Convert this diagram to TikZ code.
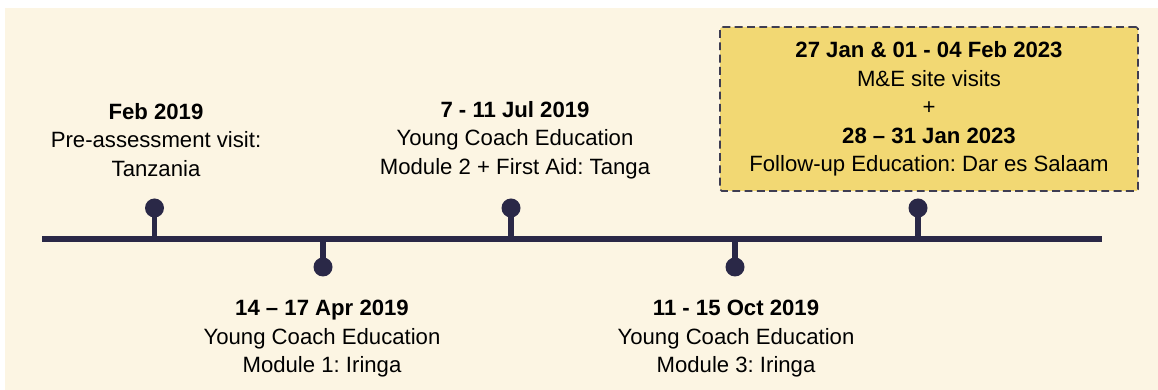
\documentclass[tikz,border=0pt]{standalone}
\usepackage{fontspec}
\setmainfont{Liberation Sans}
\usetikzlibrary{positioning}
\frenchspacing

\definecolor{navy}{HTML}{2A2847}
\definecolor{cream}{HTML}{FCF5E3}
\definecolor{gold}{HTML}{F2D873}
\definecolor{boxline}{HTML}{3E3D52}

\begin{document}
\begin{tikzpicture}[
  stem/.style={draw=navy, line width=3.2pt},
  dot/.style={circle, fill=navy, inner sep=0pt, minimum size=0.38cm},
  event/.style={align=center, font=\fontsize{12.6}{16.2}\selectfont},
  highlight/.style={draw=boxline, dash pattern=on 4.5pt off 2.5pt, line width=0.9pt,
                    fill=gold, rounded corners=1pt, minimum width=8.36cm,
                    minimum height=3.28cm, align=center,
                    font=\fontsize{12.6}{16.2}\selectfont},
]
  \useasboundingbox (0,0) rectangle (23.16,7.8);
  \fill[cream] (0.1,0) rectangle (23.16,7.64);

  % timeline
  \coordinate (start) at (0.84,3.02);
  \coordinate (end)   at (22.04,3.02);
  \draw[stem] (start) -- (end);

  % events above the line
  \node[dot] (d1) at (3.09,3.64) {};
  \node[dot] (d3) at (10.22,3.64) {};
  \node[dot] (d5) at (18.36,3.64) {};
  % events below the line
  \node[dot] (d2) at (6.46,2.46) {};
  \node[dot] (d4) at (14.70,2.46) {};

  \coordinate (t1) at (3.09,3.02);
  \coordinate (t2) at (6.46,3.02);
  \coordinate (t3) at (10.22,3.02);
  \coordinate (t4) at (14.70,3.02);
  \coordinate (t5) at (18.36,3.02);
  \draw[stem] (d1.center) -- (t1);
  \draw[stem] (d2.center) -- (t2);
  \draw[stem] (d3.center) -- (t3);
  \draw[stem] (d4.center) -- (t4);
  \draw[stem] (d5.center) -- (t5);

  \node[event] (e1) at (3.12,5.0) {\textbf{Feb 2019}\\Pre-assessment visit:\\Tanzania};
  \node[event] (e3) at (10.30,5.0) {\textbf{7 - 11 Jul 2019}\\Young Coach Education\\Module 2 + First Aid: Tanga};
  \node[event] (e2) at (6.44,1.02) {\textbf{14 -- 17 Apr 2019}\\Young Coach Education\\Module 1: Iringa};
  \node[event] (e4) at (14.72,1.02) {\textbf{11 - 15 Oct 2019}\\Young Coach Education\\Module 3: Iringa};

  % follow-up visit
  \node[highlight] (e5) at (18.58,5.62) {\textbf{27 Jan \& 01 - 04 Feb 2023}\\M\&E site visits\\+\\\textbf{28 -- 31 Jan 2023}\\Follow-up Education: Dar es Salaam};
\end{tikzpicture}
\end{document}
